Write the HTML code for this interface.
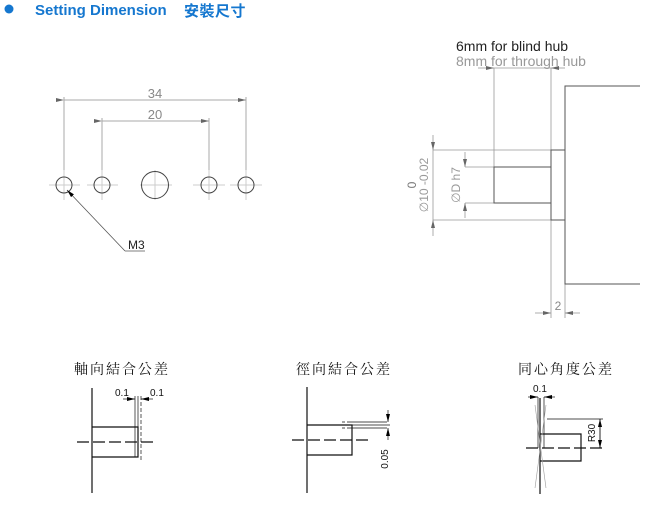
<!DOCTYPE html>
<html><head><meta charset="utf-8"><style>
html,body{margin:0;padding:0;background:#fff;}
svg{display:block;}
</style></head><body>
<svg width="659" height="518" viewBox="0 0 659 518" xmlns="http://www.w3.org/2000/svg" font-family="Liberation Sans, sans-serif">
<defs>
<marker id="a" markerWidth="8" markerHeight="6" refX="8" refY="3" orient="auto" markerUnits="userSpaceOnUse"><path d="M0,1 L8,3 L0,5 Z" fill="#666"/></marker>
<marker id="k" markerWidth="8" markerHeight="6" refX="8" refY="3" orient="auto" markerUnits="userSpaceOnUse"><path d="M0,1 L8,3 L0,5 Z" fill="#000"/></marker>
</defs>
<circle cx="9" cy="9" r="4.5" fill="#1577cf"/>
<text x="35" y="15" font-size="15" font-weight="bold" fill="#1577cf">Setting Dimension</text>
<text x="184" y="16" font-size="15" font-weight="bold" fill="#1577cf" font-family="Liberation Sans, Noto Sans CJK TC, sans-serif" letter-spacing="0.5">安裝尺寸</text>

<g stroke="#ccc" stroke-width="1" fill="none">
<line x1="49" y1="185" x2="80" y2="185"/><line x1="64" y1="170" x2="64" y2="200"/>
<line x1="87" y1="185" x2="118" y2="185"/><line x1="102" y1="170" x2="102" y2="200"/>
<line x1="140" y1="185" x2="172" y2="185"/><line x1="155" y1="170" x2="155" y2="200"/>
<line x1="193" y1="185" x2="225" y2="185"/><line x1="209" y1="170" x2="209" y2="200"/>
<line x1="230" y1="185" x2="262" y2="185"/><line x1="246" y1="170" x2="246" y2="200"/>
</g>
<g stroke="#aaa" stroke-width="1" fill="none">
<line x1="64" y1="97" x2="64" y2="170"/><line x1="246" y1="97" x2="246" y2="170"/>
<line x1="102" y1="118" x2="102" y2="170"/><line x1="209" y1="118" x2="209" y2="170"/>
<line x1="64" y1="100" x2="246" y2="100" marker-start="url(#a)" marker-end="url(#a)"/>
<line x1="102" y1="121" x2="209" y2="121" marker-start="url(#a)" marker-end="url(#a)"/>
</g>
<text x="155" y="98" font-size="13" fill="#888" text-anchor="middle">34</text>
<text x="155" y="119" font-size="13" fill="#888" text-anchor="middle">20</text>
<g stroke="#444" stroke-width="1" fill="none">
<circle cx="64" cy="185" r="8"/><circle cx="102" cy="185" r="8"/>
<circle cx="155" cy="185" r="13.5"/><circle cx="209" cy="185" r="8"/><circle cx="246" cy="185" r="8"/>
</g>
<line x1="125" y1="251" x2="67" y2="190" stroke="#555" stroke-width="0.8" marker-end="url(#k)"/>
<line x1="125" y1="251" x2="145" y2="251" stroke="#555" stroke-width="0.8"/>
<text x="128" y="249" font-size="12" fill="#222">M3</text>

<text x="456" y="51" font-size="14" fill="#222">6mm  for blind hub</text>
<text x="456" y="66" font-size="14" fill="#999">8mm   for through hub</text>
<g stroke="#999" stroke-width="0.8" fill="none">
<line x1="478" y1="68" x2="494" y2="68" marker-end="url(#a)"/>
<line x1="565" y1="68" x2="551" y2="68" marker-end="url(#a)"/>
<line x1="494" y1="68" x2="551" y2="68"/>
<line x1="494" y1="68" x2="494" y2="167"/>
<line x1="551" y1="68" x2="551" y2="318"/>
<line x1="565" y1="284" x2="565" y2="318"/>
<line x1="433" y1="150" x2="551" y2="150"/>
<line x1="433" y1="220" x2="551" y2="220"/>
<line x1="433" y1="135" x2="433" y2="150" marker-end="url(#a)"/>
<line x1="433" y1="236" x2="433" y2="220" marker-end="url(#a)"/>
<line x1="433" y1="150" x2="433" y2="220"/>
<line x1="465" y1="167" x2="494" y2="167"/>
<line x1="465" y1="203" x2="494" y2="203"/>
<line x1="465" y1="152" x2="465" y2="167" marker-end="url(#a)"/>
<line x1="465" y1="218" x2="465" y2="203" marker-end="url(#a)"/>
<line x1="535" y1="313" x2="551" y2="313" marker-end="url(#a)"/>
<line x1="580" y1="313" x2="565" y2="313" marker-end="url(#a)"/>
</g>
<g stroke="#555" stroke-width="1" fill="none">
<polyline points="640,86 565,86 565,284 640,284"/>
<rect x="551" y="150" width="14" height="70"/>
<rect x="494" y="167" width="57" height="36"/>
</g>
<text x="558" y="310" font-size="12" fill="#888" text-anchor="middle">2</text>
<g transform="translate(416,185) rotate(-90)"><text x="0" y="0" font-size="12" fill="#777" text-anchor="middle">0</text></g>
<g transform="translate(428,185) rotate(-90)"><text x="0" y="0" font-size="12" fill="#999" text-anchor="middle">∅10 -0.02</text></g>
<g transform="translate(460,185) rotate(-90)"><text x="0" y="0" font-size="12" fill="#999" text-anchor="middle">∅D  h7</text></g>

<g font-family="Liberation Serif, Noto Serif CJK TC, Noto Serif CJK SC, serif" font-size="14" fill="#111" letter-spacing="2">
<text x="74" y="374">軸向結合公差</text>
<text x="296" y="374">徑向結合公差</text>
<text x="518" y="374">同心角度公差</text>
</g>

<g stroke="#111" stroke-width="1.2" fill="none">
<line x1="92" y1="388" x2="92" y2="493"/>
<polyline points="92,427 138,427 138,457 92,457"/>
<line x1="77" y1="442" x2="154" y2="442" stroke-dasharray="12,4"/>
</g>
<g stroke="#111" stroke-width="0.7" fill="none">
<line x1="135" y1="396" x2="135" y2="457"/>
<line x1="138" y1="396" x2="138" y2="427"/>
<line x1="141" y1="396" x2="141" y2="460" stroke-dasharray="4,2"/>
<line x1="123" y1="399" x2="135" y2="399" marker-end="url(#k)"/>
<line x1="153" y1="399" x2="141" y2="399" marker-end="url(#k)"/>
</g>
<text x="115" y="396" font-size="10" fill="#111">0.1</text>
<text x="150" y="396" font-size="10" fill="#111">0.1</text>

<g stroke="#111" stroke-width="1.2" fill="none">
<line x1="307" y1="387" x2="307" y2="493"/>
<polyline points="307,425 352,425 352,455 307,455"/>
<line x1="292" y1="440" x2="368" y2="440" stroke-dasharray="12,4"/>
</g>
<g stroke="#111" stroke-width="0.7" fill="none">
<line x1="342" y1="422" x2="390" y2="422" stroke-dasharray="3,2,40"/>
<line x1="352" y1="425" x2="390" y2="425"/>
<line x1="342" y1="428" x2="390" y2="428" stroke-dasharray="3,2,40"/>
<line x1="388" y1="410" x2="388" y2="422" marker-end="url(#k)"/>
<line x1="388" y1="440" x2="388" y2="428" marker-end="url(#k)"/>
</g>
<g transform="translate(388,459) rotate(-90)"><text x="0" y="0" font-size="10" fill="#111" text-anchor="middle">0.05</text></g>

<g stroke="#111" stroke-width="1.2" fill="none">
<line x1="540" y1="398" x2="540" y2="494"/>
<polyline points="540,434 581,434 581,461 540,461"/>
<line x1="526" y1="448" x2="604" y2="448" stroke-dasharray="12,4"/>
</g>
<g stroke="#111" stroke-width="0.7" fill="none">
<line x1="538" y1="397" x2="538" y2="448"/>
<line x1="544" y1="397" x2="544" y2="448"/>
<line x1="528" y1="397" x2="538" y2="397" marker-end="url(#k)"/>
<line x1="555" y1="397" x2="544" y2="397" marker-end="url(#k)"/>
<line x1="547" y1="419" x2="603" y2="419"/>
<line x1="600" y1="448" x2="600" y2="419" marker-end="url(#k)"/>
<line x1="600" y1="419" x2="600" y2="448" marker-end="url(#k)"/>
</g>
<g stroke="#999" stroke-width="0.6" fill="none">
<line x1="535" y1="405" x2="546" y2="488"/>
<line x1="546" y1="405" x2="535" y2="488"/>
</g>
<text x="533" y="392" font-size="10" fill="#111">0.1</text>
<g transform="translate(595,433) rotate(-90)"><text x="0" y="0" font-size="10" fill="#111" text-anchor="middle">R30</text></g>
</svg>
</body></html>
